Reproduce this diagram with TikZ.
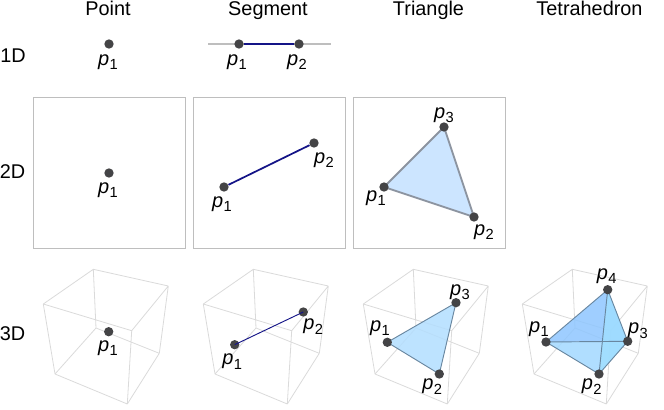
\documentclass[tikz,border=0pt]{standalone}
\usepackage{fontspec}
\setmainfont{Liberation Sans}
\definecolor{dotgray}{RGB}{68,68,70}
\definecolor{framegray}{RGB}{190,190,190}
\definecolor{cubegray}{RGB}{218,218,218}
\definecolor{segblue}{RGB}{20,20,135}
\definecolor{flatfill}{RGB}{204,229,255}
\definecolor{flatedge}{RGB}{140,148,160}
\definecolor{solidfill}{RGB}{178,222,255}
\definecolor{solidedge}{RGB}{105,135,160}
\definecolor{backface}{RGB}{142,198,255}
\definecolor{lowface}{RGB}{162,216,255}
\definecolor{sideface}{RGB}{160,222,255}
\tikzset{
  x=0.75pt,y=-0.75pt,
  vertex/.style={circle,fill=dotgray,draw=none,inner sep=0pt,minimum size=7pt},
  heading/.style={font=\fontsize{14.9}{16}\selectfont,inner sep=0pt,anchor=base},
  pointlabel/.style={font=\fontsize{15}{16}\selectfont,inner sep=0pt},
  plotframe/.style={draw=framegray,line width=0.6pt,fill=none},
  cubeline/.style={draw=cubegray,line width=0.6pt},
  seglinethick/.style={draw=segblue,line width=1.3pt},
  seglinethin/.style={draw=segblue,line width=0.7pt},
  faceshade/.style={fill opacity=0.85},
}
\newcommand{\plab}[1]{\textit{p}\kern0.02em\raisebox{-0.21em}{\fontsize{11}{12}\selectfont #1}}
% wireframe of the bounding cube, shifted horizontally by #1
\newcommand{\cubewire}[1]{%
  \begin{scope}[xshift=#1*0.75pt]
    \coordinate (tb) at (93.3,269.3);
    \coordinate (tr) at (168.3,286);
    \coordinate (tl) at (43.3,304);
    \coordinate (tf) at (131.7,330.7);
    \coordinate (bb) at (96,328);
    \coordinate (br) at (159.3,353.3);
    \coordinate (bl) at (55,374);
    \coordinate (bf) at (127.3,404);
    \draw[cubeline] (tb) -- (tr) (tb) -- (tl) (tb) -- (bb) (bb) -- (br) (bb) -- (bl)
      (tl) -- (bl) (bl) -- (bf) (bf) -- (br) (br) -- (tr)
      (tl) -- (tf) (tf) -- (tr) (tf) -- (bf);
  \end{scope}}
\begin{document}
\begin{tikzpicture}
\useasboundingbox (0,0) rectangle (664,410);
% column and row headings
\node[heading] (hpoint) at (108,15.7) {Point};
\node[heading] (hseg) at (268,15.7) {Segment};
\node[heading] (htri) at (428.5,15.7) {Triangle};
\node[heading] (htet) at (589.5,15.7) {Tetrahedron};
\node[heading] (r1) at (13,63) {1D};
\node[heading] (r2) at (12.5,178) {2D};
\node[heading] (r3) at (12.5,340) {3D};

% 1D row
\node[vertex] (a) at (109,44) {};
\node[pointlabel] (al) at (108,62) {\plab{1}};
\coordinate (axl) at (208,44);
\coordinate (axr) at (331,44);
\draw[framegray,line width=1.2pt] (axl) -- (axr);
\node[vertex] (b1) at (239,44) {};
\node[vertex] (b2) at (299,44) {};
\draw[seglinethick] (b1) -- (b2);
\node[pointlabel] (b1l) at (237,62) {\plab{1}};
\node[pointlabel] (b2l) at (297,62) {\plab{2}};

% 2D row
\draw[plotframe] (33,97) rectangle (185,248);
\draw[plotframe] (193,97) rectangle (345,248);
\draw[plotframe] (353,97) rectangle (505,248);
\node[vertex] (c) at (109,173) {};
\node[pointlabel] (cl) at (108,190) {\plab{1}};
\node[vertex] (d1) at (224,187) {};
\node[vertex] (d2) at (314,143) {};
\draw[seglinethick] (d1) -- (d2);
\node[pointlabel] (d1l) at (222,204) {\plab{1}};
\node[pointlabel] (d2l) at (324,160) {\plab{2}};
\coordinate (e1) at (384,187);
\coordinate (e2) at (474,217);
\coordinate (e3) at (444,127);
\draw[fill=flatfill,draw=flatedge,line width=1.4pt,line join=round] (e1) -- (e2) -- (e3) -- cycle;
\node[vertex] (e1n) at (e1) {};
\node[vertex] (e2n) at (e2) {};
\node[vertex] (e3n) at (e3) {};
\node[pointlabel] (e1l) at (376,198) {\plab{1}};
\node[pointlabel] (e2l) at (484,232) {\plab{2}};
\node[pointlabel] (e3l) at (444,115) {\plab{3}};

% 3D row: point
\cubewire{0}
\node[vertex] (f) at (108.7,331.7) {};
\node[pointlabel] (fl) at (108,348) {\plab{1}};

% 3D row: segment
\cubewire{160}
\node[vertex] (g1) at (234.7,344.7) {};
\node[vertex] (g2) at (303.3,312) {};
\draw[seglinethin] (g1.center) -- (g2.center);
\node[pointlabel] (g1l) at (232.3,361.7) {\plab{1}};
\node[pointlabel] (g2l) at (313.3,326.7) {\plab{2}};

% 3D row: triangle
\cubewire{320}
\coordinate (h1) at (387.3,342.3);
\coordinate (h2) at (439.3,374);
\coordinate (h3) at (456,302.7);
\path[fill=solidfill,faceshade] (h1) -- (h2) -- (h3) -- cycle;
\draw[solidedge,line width=0.7pt,line join=round] (h1) -- (h2) -- (h3) -- cycle;
\node[vertex] (h1n) at (h1) {};
\node[vertex] (h2n) at (h2) {};
\node[vertex] (h3n) at (h3) {};
\node[pointlabel] (h1l) at (380,328.3) {\plab{1}};
\node[pointlabel] (h2l) at (432.3,386.7) {\plab{2}};
\node[pointlabel] (h3l) at (460,292.3) {\plab{3}};

% 3D row: tetrahedron
\cubewire{479}
\coordinate (k1) at (546,342);
\coordinate (k2) at (599,374);
\coordinate (k3) at (627.7,341.3);
\coordinate (k4) at (607.7,289.7);
\path[fill=backface,faceshade] (k1) -- (k3) -- (k4) -- cycle;
\path[fill=lowface,faceshade] (k1) -- (k2) -- (k3) -- cycle;
\path[fill=sideface,faceshade] (k2) -- (k3) -- (k4) -- cycle;
\draw[solidedge,line width=0.7pt,line join=round] (k1) -- (k2) -- (k3) -- (k4) -- cycle (k1) -- (k3) (k2) -- (k4);
\node[vertex] (k1n) at (k1) {};
\node[vertex] (k2n) at (k2) {};
\node[vertex] (k3n) at (k3) {};
\node[vertex] (k4n) at (k4) {};
\node[pointlabel] (k1l) at (539,329.3) {\plab{1}};
\node[pointlabel] (k2l) at (591.7,386.7) {\plab{2}};
\node[pointlabel] (k3l) at (638,330.7) {\plab{3}};
\node[pointlabel] (k4l) at (606.7,276) {\plab{4}};
\end{tikzpicture}
\end{document}
